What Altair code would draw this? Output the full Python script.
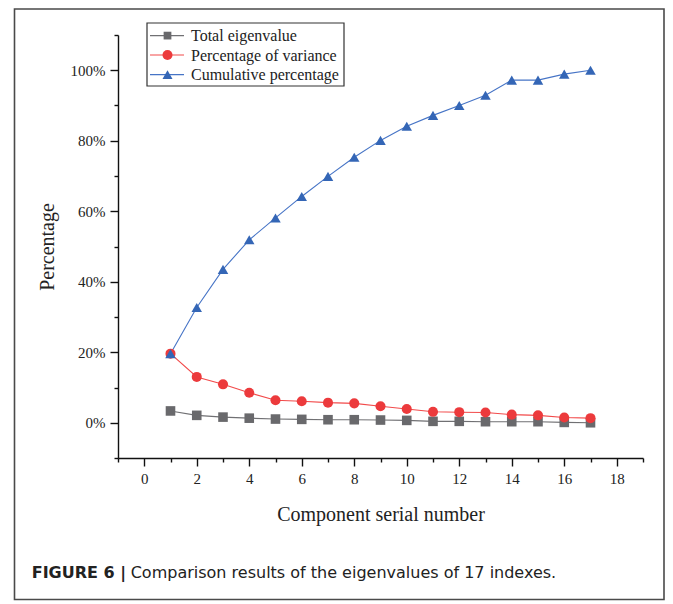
import altair as alt
import pandas as pd

components = list(range(1, 18))
total_eigenvalue = [3.35, 2.1, 1.6, 1.3, 1.05, 0.96, 0.86, 0.86, 0.77, 0.67, 0.4, 0.4, 0.3, 0.3, 0.3, 0.1, 0.0]
pct_variance = [19.6, 13.0, 10.9, 8.5, 6.4, 6.1, 5.7, 5.5, 4.7, 3.9, 3.1, 3.0, 2.9, 2.3, 2.1, 1.5, 1.3]
cumulative_pct = [19.6, 32.7, 43.5, 51.9, 58.1, 64.2, 69.9, 75.3, 80.1, 84.1, 87.2, 90.0, 92.9, 97.2, 97.2, 98.9, 100.0]
series_names = ["Total eigenvalue", "Percentage of variance", "Cumulative percentage"]
x_ticks = list(range(-1, 20))
y_ticks = list(range(-10, 111, 10))
caption_bold = "FIGURE 6 |"
caption_text = "Comparison results of the eigenvalues of 17 indexes."

rows = []
for name, vals in zip(series_names, [total_eigenvalue, pct_variance, cumulative_pct]):
    for c, v in zip(components, vals):
        rows.append({"component": c, "value": v, "series": name})
df = pd.DataFrame(rows)

line_colors = ["#707073", "#f24a4a", "#4674c6"]
marker_colors = ["#69696c", "#ec3a3c", "#3466b6"]
shapes = ["square", "circle", "triangle-up"]
sizes = [92, 110, 140]
legend_sizes = [60, 100, 100]

SERIF = "Liberation Serif"

x_enc = alt.X(
    "component:Q",
    scale=alt.Scale(domain=[-1, 19], nice=False, zero=False),
    axis=alt.Axis(
        values=x_ticks,
        title="Component serial number",
        labelExpr="datum.value % 2 === 0 ? datum.label : ''",
        tickSize={"condition": {"test": "datum.value % 2 !== 0", "value": 4}, "value": 8},
        labelPadding=5,
        titlePadding=18,
        labelFlush=False,
        labelOverlap=False,
    ),
)
y_enc = alt.Y(
    "value:Q",
    scale=alt.Scale(domain=[-10, 110], nice=False, zero=False),
    axis=alt.Axis(
        values=y_ticks,
        title="Percentage",
        labelExpr="(datum.value % 20 === 0 && datum.value >= 0 && datum.value <= 100) ? datum.value + '%' : ''",
        tickSize={"condition": {"test": "datum.value % 20 !== 0", "value": 4}, "value": 8},
        labelPadding=5,
        titlePadding=13,
        labelFlush=False,
        labelOverlap=False,
    ),
)

base = alt.Chart(df)

lines = base.mark_line(strokeWidth=1.1).encode(
    x=x_enc,
    y=y_enc,
    stroke=alt.Stroke("series:N", scale=alt.Scale(domain=series_names, range=line_colors), legend=None),
)

points = base.mark_point(filled=True, opacity=1, strokeWidth=0).encode(
    x=x_enc,
    y=y_enc,
    fill=alt.Fill("series:N", scale=alt.Scale(domain=series_names, range=marker_colors), legend=None),
    shape=alt.Shape("series:N", scale=alt.Scale(domain=series_names, range=shapes), legend=None),
    size=alt.Size("series:N", scale=alt.Scale(domain=series_names, range=sizes), legend=None),
)

one = alt.Data(values=[{"k": 1}])

# legend box drawn as decoration (line segment + marker + label per series)
legend_layers = [
    alt.Chart(one).mark_rect(fill="white", stroke="#333333", strokeWidth=1.2).encode(
        x=alt.value(29), x2=alt.value(226), y=alt.value(-12), y2=alt.value(51)
    )
]
row_y = [0.6, 20.0, 39.6]
for i, name in enumerate(series_names):
    legend_layers.append(
        alt.Chart(one).mark_rule(stroke=line_colors[i], strokeWidth=1.2).encode(
            x=alt.value(32), x2=alt.value(66), y=alt.value(row_y[i])
        )
    )
    legend_layers.append(
        alt.Chart(one).mark_point(
            filled=True, opacity=1, strokeWidth=0, shape=shapes[i], size=legend_sizes[i], fill=marker_colors[i]
        ).encode(x=alt.value(49.5), y=alt.value(row_y[i]))
    )
    legend_layers.append(
        alt.Chart(one).mark_text(
            text=name, font=SERIF, fontSize=16, align="left", baseline="middle", color="#222222"
        ).encode(x=alt.value(73), y=alt.value(row_y[i] + 0.5))
    )

frame = alt.Chart(one).mark_rect(fillOpacity=0, stroke="#4a4a4a", strokeWidth=1.6).encode(
    x=alt.value(-103.5), x2=alt.value(546), y=alt.value(-26), y2=alt.value(564.5)
)

cap1 = alt.Chart(one).mark_text(
    text=caption_bold, font="DejaVu Sans", fontWeight="bold", fontSize=16,
    align="left", baseline="alphabetic", color="#222222"
).encode(x=alt.value(-86.3), y=alt.value(543))

cap2 = alt.Chart(one).mark_text(
    text=caption_text, font="DejaVu Sans", fontSize=16,
    align="left", baseline="alphabetic", color="#222222"
).encode(x=alt.value(12.7), y=alt.value(543))

chart = alt.layer(frame, lines, points, *legend_layers, cap1, cap2).properties(
    width=525,
    height=423,
    padding={"left": 110, "top": 27, "right": 22, "bottom": 146},
    autosize=alt.AutoSizeParams(type="none"),
).configure_view(stroke=None).configure_axis(
    grid=False,
    domainColor="#111111",
    domainWidth=1.4,
    tickColor="#111111",
    tickWidth=1.4,
    labelFont=SERIF,
    labelFontSize=15,
    labelColor="#222222",
    titleFont=SERIF,
    titleFontSize=20,
    titleFontWeight="normal",
    titleColor="#222222",
)

chart.save("out.html", embed_options={"renderer": "svg", "actions": False})
